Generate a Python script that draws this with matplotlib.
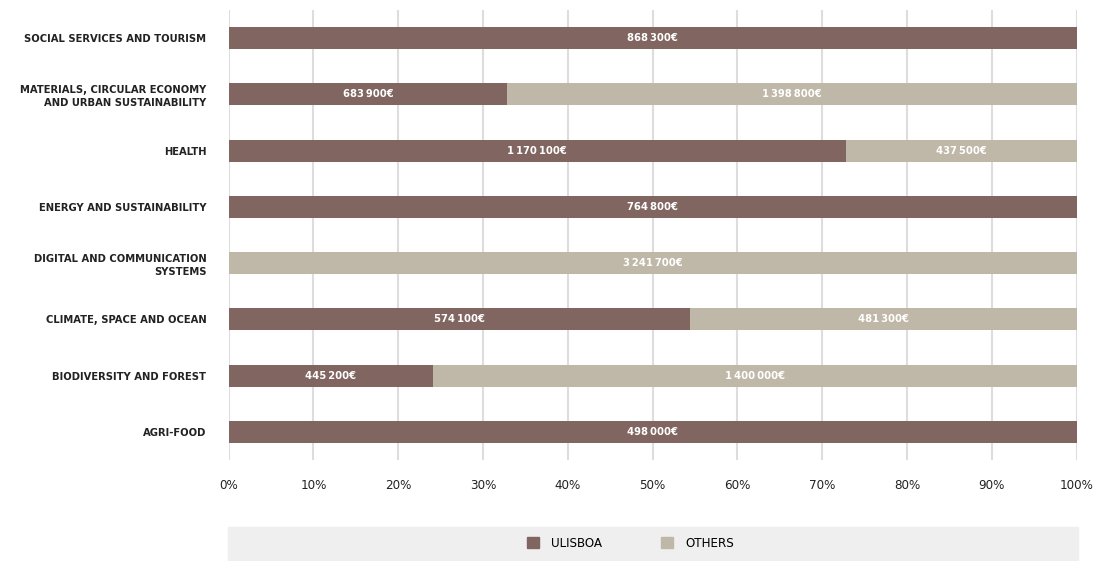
import matplotlib
matplotlib.use('Agg')
import matplotlib.pyplot as plt
from matplotlib.patches import Rectangle, Patch
from matplotlib import font_manager

# fonte estreita, se existir
names = {f.name for f in font_manager.fontManager.ttflist}
if 'Liberation Sans Narrow' in names:
    plt.rcParams['font.family'] = ['Liberation Sans Narrow', 'DejaVu Sans']
else:
    plt.rcParams['font.family'] = ['DejaVu Sans']
    plt.rcParams['font.stretch'] = 'condensed'

categories = ['SOCIAL SERVICES AND TOURISM',
              'MATERIALS, CIRCULAR ECONOMY\nAND URBAN SUSTAINABILITY',
              'HEALTH',
              'ENERGY AND SUSTAINABILITY',
              'DIGITAL AND COMMUNICATION\nSYSTEMS',
              'CLIMATE, SPACE AND OCEAN',
              'BIODIVERSITY AND FOREST',
              'AGRI-FOOD']
ulisboa = [868300, 683900, 1170100, 764800, 0, 574100, 445200, 498000]
others = [0, 1398800, 437500, 0, 3241700, 481300, 1400000, 0]
series_names = ['ULISBOA', 'OTHERS']
ticks = [0, 10, 20, 30, 40, 50, 60, 70, 80, 90, 100]

c_ul = '#806560'
c_ot = '#bfb8a8'

def fmt(v):
    return '{:,}'.format(v).replace(',', '\u2009') + '€'

fig = plt.figure(figsize=(11.1, 5.61), dpi=100)
ax = fig.add_axes([0.206, 0.18, 0.764, 0.802])

y = list(range(len(categories)))
tot = [a + b for a, b in zip(ulisboa, others)]
p_ul = [100 * a / t for a, t in zip(ulisboa, tot)]
p_ot = [100 * b / t for b, t in zip(others, tot)]

ax.barh(y, p_ul, height=0.39, color=c_ul, zorder=3)
ax.barh(y, p_ot, left=p_ul, height=0.39, color=c_ot, zorder=3)

for i in y:
    if ulisboa[i] > 0:
        ax.text(p_ul[i] / 2, i, fmt(ulisboa[i]), ha='center', va='center',
                color='white', fontsize=8, fontweight='bold', zorder=4)
    if others[i] > 0:
        ax.text(p_ul[i] + p_ot[i] / 2, i, fmt(others[i]), ha='center', va='center',
                color='white', fontsize=8, fontweight='bold', zorder=4)

ax.set_ylim(len(categories) - 0.5, -0.5)
ax.set_xlim(0, 100)
ax.set_xticks(ticks)
ax.set_xticklabels([f'{t}%' for t in ticks])
ax.set_yticks(y)
ax.set_yticklabels(categories, fontsize=8, fontweight='bold', color='#222222',
                   linespacing=1.3)
ax.tick_params(axis='x', length=0, pad=14, labelsize=9.5, labelcolor='#222222')
ax.tick_params(axis='y', length=0, pad=16)
ax.grid(axis='x', color='#dddddd', linewidth=1.5, zorder=0)
for s in ax.spines.values():
    s.set_visible(False)

# caixa da legenda
fig.patches.append(Rectangle((0.205, 0.0), 0.766, 0.061, transform=fig.transFigure,
                             color='#efefef', zorder=0))
handles = [Patch(color=c_ul), Patch(color=c_ot)]
fig.legend(handles, series_names, loc='center', bbox_to_anchor=(0.568, 0.031),
           ncol=2, frameon=False, fontsize=9.5, handlelength=0.9, handleheight=0.9,
           columnspacing=4.5, handletextpad=0.9)

fig.savefig('out.png', dpi=100)
